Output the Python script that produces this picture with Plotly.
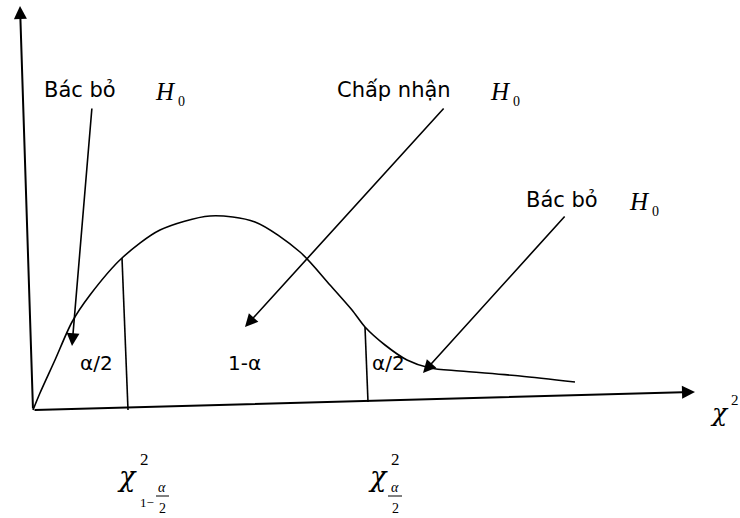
import plotly.graph_objects as go

# ---- data (diagram coordinates, pixel-like units) ----
curve_x = [33, 40, 55, 72, 90, 122, 160, 210, 255, 300, 330, 352, 365, 385, 407, 430, 460, 520, 575]
curve_y = [410, 393, 360, 322, 295, 258, 230, 216, 222, 252, 285, 310, 327, 345, 360, 368, 371, 376, 382]

crit_x_top = [122, 365]
crit_y_top = [258, 327]
crit_x_bot = [128, 368]
crit_y_bot = [410, 402]

axis_origin = (33, 410)
xaxis_tip = (695, 392)
yaxis_tip = (20, 6)

arrow_starts = [(92, 107), (445, 107), (566, 215)]
arrow_tips = [(72, 346), (245, 327), (423, 373)]

region_labels = ["α/2", "1-α", "α/2"]
region_label_x = [96, 244, 388]
region_label_y = [363, 363, 363]

top_labels = ["Bác bỏ", "Chấp nhận", "Bác bỏ"]
top_label_x = [42, 335, 524]
top_label_y = [90, 90, 200]
h0_x = [153, 488, 627]

W, H = 740, 518
fig = go.Figure()

SANS = "DejaVu Sans"
SERIF = "Liberation Serif"
GREEK = "DejaVu Serif"

# curve
fig.add_trace(go.Scatter(x=curve_x, y=curve_y, mode="lines",
                         line=dict(color="black", width=1.6, shape="spline", smoothing=0.8),
                         hoverinfo="skip"))
# critical value vertical lines
for xt, yt, xb, yb in zip(crit_x_top, crit_y_top, crit_x_bot, crit_y_bot):
    fig.add_trace(go.Scatter(x=[xt, xb], y=[yt, yb], mode="lines",
                             line=dict(color="black", width=1.6), hoverinfo="skip"))

anns = []
# axes with arrowheads
for tip in [xaxis_tip, yaxis_tip]:
    anns.append(dict(x=tip[0], y=tip[1], ax=axis_origin[0], ay=axis_origin[1],
                     xref="x", yref="y", axref="x", ayref="y", showarrow=True,
                     arrowhead=2, arrowsize=1.3, arrowwidth=2, arrowcolor="black", text=""))
# pointer arrows
for s, t in zip(arrow_starts, arrow_tips):
    anns.append(dict(x=t[0], y=t[1], ax=s[0], ay=s[1],
                     xref="x", yref="y", axref="x", ayref="y", showarrow=True,
                     arrowhead=2, arrowsize=1.6, arrowwidth=1.6, arrowcolor="black", text=""))

# region labels
for txt, x, y in zip(region_labels, region_label_x, region_label_y):
    anns.append(dict(x=x, y=y, text=txt, showarrow=False, xref="x", yref="y",
                     font=dict(family=SANS, size=20, color="black")))

# top labels with H0
for i, (txt, x, y) in enumerate(zip(top_labels, top_label_x, top_label_y)):
    anns.append(dict(x=x, y=y, text=txt, showarrow=False, xref="x", yref="y",
                     xanchor="left", yanchor="middle",
                     font=dict(family=SANS, size=21, color="black")))
    anns.append(dict(x=h0_x[i], y=y + 1, text="<i>H</i>", showarrow=False, xref="x", yref="y",
                     xanchor="left", yanchor="middle",
                     font=dict(family=SERIF, size=25, color="black")))
    anns.append(dict(x=h0_x[i] + 23, y=y + 11, text="0", showarrow=False, xref="x", yref="y",
                     xanchor="left", yanchor="middle",
                     font=dict(family=SERIF, size=14, color="black")))

def chi(x, y, size=28):
    anns.append(dict(x=x, y=y, text="<i>χ</i>", showarrow=False, xref="x", yref="y",
                     font=dict(family=GREEK, size=size, color="black")))

# chi^2 axis label
chi(719, 412, 25)
anns.append(dict(x=735, y=400, text="2", showarrow=False, xref="x", yref="y",
                 font=dict(family=SERIF, size=15, color="black")))

# chi^2_{1-alpha/2}
chi(127, 476, 27)
anns.append(dict(x=144, y=459, text="2", showarrow=False, xref="x", yref="y",
                 font=dict(family=SERIF, size=17, color="black")))
anns.append(dict(x=147, y=502, text="1−", showarrow=False, xref="x", yref="y",
                 font=dict(family=SERIF, size=13, color="black")))
anns.append(dict(x=162, y=487, text="<i>α</i>", showarrow=False, xref="x", yref="y",
                 font=dict(family=SERIF, size=14, color="black")))
anns.append(dict(x=162, y=508, text="2", showarrow=False, xref="x", yref="y",
                 font=dict(family=SERIF, size=14, color="black")))
# chi^2_{alpha/2}
chi(378, 476, 27)
anns.append(dict(x=395, y=459, text="2", showarrow=False, xref="x", yref="y",
                 font=dict(family=SERIF, size=17, color="black")))
anns.append(dict(x=395, y=487, text="<i>α</i>", showarrow=False, xref="x", yref="y",
                 font=dict(family=SERIF, size=14, color="black")))
anns.append(dict(x=395, y=508, text="2", showarrow=False, xref="x", yref="y",
                 font=dict(family=SERIF, size=14, color="black")))

# fraction bars
for x0, x1 in [(156, 169), (388, 402)]:
    fig.add_trace(go.Scatter(x=[x0, x1], y=[496, 496], mode="lines",
                             line=dict(color="black", width=1), hoverinfo="skip"))

fig.update_layout(
    width=W, height=H, showlegend=False,
    margin=dict(l=0, r=0, t=0, b=0),
    paper_bgcolor="white", plot_bgcolor="white",
    xaxis=dict(range=[0, W], visible=False, fixedrange=True),
    yaxis=dict(range=[H, 0], visible=False, fixedrange=True),
    annotations=anns,
)
fig.write_html("out.html", config={"displayModeBar": False},
               post_script="document.body.style.margin='0';document.body.style.overflow='hidden';")
